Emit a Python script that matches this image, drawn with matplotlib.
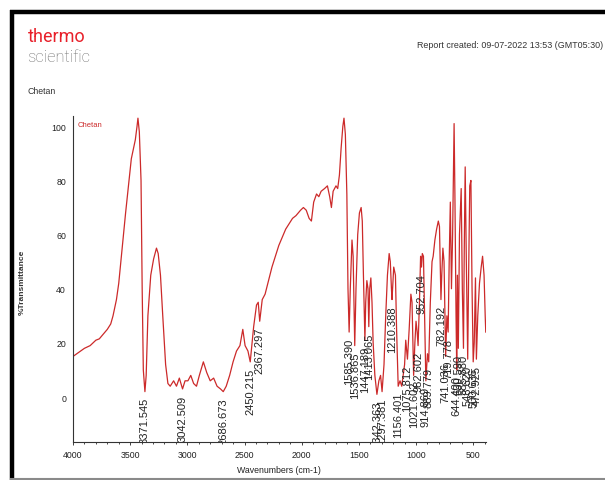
import matplotlib
matplotlib.use("Agg")
import matplotlib.pyplot as plt
from matplotlib.lines import Line2D
from matplotlib.ticker import MultipleLocator

plt.rcParams['font.family'] = ['Liberation Sans', 'DejaVu Sans']

# FTIR spectrum (wavenumber in cm-1, % transmittance)
wavenumber = [
    4000, 3950, 3900, 3850, 3800, 3770, 3740, 3700, 3670, 3650, 3620, 3600,
    3570, 3540, 3510, 3490, 3470, 3455, 3440, 3432, 3420, 3405, 3395, 3385,
    3371, 3360, 3345, 3320, 3295, 3270, 3255, 3235, 3215, 3190, 3170, 3150,
    3120, 3095, 3070, 3042, 3020, 2995, 2970, 2945, 2920, 2895, 2860, 2830,
    2800, 2770, 2740, 2710, 2686, 2660, 2630, 2600, 2570, 2540, 2515, 2495,
    2470, 2450, 2420, 2395, 2380, 2367, 2345, 2320, 2290, 2260, 2230, 2200,
    2170, 2140, 2110, 2080, 2050, 2010, 1985, 1960, 1935, 1915, 1895, 1870,
    1850, 1830, 1800, 1775, 1755, 1740, 1725, 1700, 1685, 1670, 1655, 1640,
    1630, 1618, 1605, 1595, 1585, 1575, 1560, 1550, 1536, 1525, 1510, 1495,
    1480, 1470, 1460, 1447, 1440, 1430, 1420, 1413, 1405, 1395, 1385, 1375,
    1360, 1342, 1325, 1310, 1297, 1280, 1265, 1250, 1235, 1225, 1215, 1210,
    1195, 1180, 1170, 1156, 1140, 1125, 1100, 1090, 1075, 1060, 1045, 1035,
    1021, 1010, 1000, 990, 982, 970, 960, 952, 945, 935, 925, 914,
    900, 889, 875, 860, 850, 835, 820, 805, 795, 782, 775, 765,
    755, 741, 730, 719, 710, 700, 690, 680, 667, 660, 650, 644,
    638, 630, 620, 605, 595, 585, 578, 570, 560, 548, 540, 530,
    520, 510, 500, 491, 480, 472, 460, 445, 430, 418, 405, 395, 390,
]
transmittance = [
    15, 16.5, 18, 19, 21, 21.5, 23, 25, 27, 30, 36, 42,
    55, 68, 80, 88, 92, 95, 100, 103, 98, 80, 40, 10,
    2, 8, 30, 45, 51, 55, 53, 45, 30, 12, 5, 4,
    6, 4, 7, 3, 6, 6, 8, 5, 4, 8, 13, 9,
    6, 7, 4, 3, 2, 4, 8, 13, 17, 19, 25, 19,
    17, 13, 26, 34, 35, 28, 36, 38, 43, 48, 52, 56,
    59, 62, 64, 66, 67, 69, 70, 69, 66, 65, 72, 75,
    74, 76, 77, 78, 74, 70, 76, 78, 77, 82, 92, 100,
    103, 97, 75, 40, 24, 40, 58, 52, 19, 40, 60, 68,
    70, 65, 45, 21, 35, 43, 40, 26, 40, 44, 35, 20,
    8, 1, 6, 8, 2, 12, 30, 45, 53, 50, 40, 36,
    48, 45, 25, 4, 6, 4, 12, 21, 14, 25, 38, 35,
    8, 20, 28, 24, 19, 35, 52, 48, 53, 52, 30, 6,
    16, 13, 35, 50, 52, 58, 62, 65, 63, 36, 45, 55,
    50, 15, 30, 24, 50, 72, 40, 60, 101, 75, 30, 10,
    45, 18, 60, 77, 40, 18, 55, 85, 50, 14, 45, 78,
    80, 40, 13, 20, 44, 14, 30, 42, 48, 52, 45, 30, 24,
]

# Peak-pick labels: text, position (cm-1), transmittance at the minimum
peak_labels = [
    "3371.545", "3042.509", "2686.673", "2450.215", "2367.297",
    "1585.390", "1536.865", "1447.189", "1413.065", "1342.363",
    "1297.381", "1210.388", "1156.401", "1075.812", "1021.602",
    "982.602", "952.704", "914.869", "889.779", "782.192",
    "741.036", "719.778", "644.400", "630.590", "585.880",
    "548.620", "500.635", "472.925",
]
peak_wn = [
    3371, 3042, 2686, 2450, 2367,
    1585, 1536, 1447, 1413, 1342,
    1297, 1210, 1156, 1075, 1021,
    982, 952, 914, 889, 782,
    741, 719, 644, 630, 585,
    548, 500, 472,
]
peak_t = [
    2, 3, 2, 13, 28,
    24, 19, 21, 26, 1,
    2, 36, 4, 14, 8,
    19, 48, 6, 13, 36,
    15, 24, 10, 18, 18,
    14, 13, 14,
]

x_ticks = [4000, 3500, 3000, 2500, 2000, 1500, 1000, 500]
y_ticks = [0, 20, 40, 60, 80, 100]

W, H = 605, 481
fig = plt.figure(figsize=(W / 100, H / 100), dpi=100)
fig.patch.set_facecolor('white')

ax = fig.add_axes([73 / W, 1 - 443 / H, 413 / W, 326 / H])
ax.plot(wavenumber, transmittance, color='#cc2a2a', lw=0.9)
ax.set_xlim(4000, 388)
ax.set_ylim(-16.6, 103.8)

for txt, wn, t in zip(peak_labels, peak_wn, peak_t):
    ax.annotate(txt, xy=(wn, t), xytext=(0, -4), textcoords='offset points',
                rotation=90, ha='center', va='top', fontsize=8,
                color='#222222', clip_on=True, annotation_clip=False)

ax.set_xticks(x_ticks)
ax.set_yticks(y_ticks)
ax.xaxis.set_minor_locator(MultipleLocator(100))
ax.tick_params(axis='both', labelsize=6.3, colors='#222222', length=2.5, width=0.6)
ax.tick_params(axis='x', which='minor', length=1.5, width=0.5)
ax.tick_params(axis='y', length=0, pad=5)
for s in ['top', 'right']:
    ax.spines[s].set_visible(False)
for s in ['left', 'bottom']:
    ax.spines[s].set_linewidth(0.8)
    ax.spines[s].set_color('#333333')

ax.text(0.012, 0.975, 'Chetan', transform=ax.transAxes, fontsize=5.5,
        color='#cc2a2a', ha='left', va='center')

fig.text(279 / W, 1 - 471 / H, 'Wavenumbers (cm-1)', fontsize=6.3,
         ha='center', va='center', color='#222222')
fig.text(22 / W, 1 - 282 / H, '%Transmittance', fontsize=6, fontweight='bold',
         rotation=90, ha='center', va='center', color='#333333')

# Report header
fig.text(28 / W, 1 - 37 / H, 'thermo', fontsize=13, color='#e8202a',
         ha='left', va='center', family=['Roboto', 'DejaVu Sans'])
fig.text(27 / W, 1 - 58 / H, 'scientific', fontsize=12, color='#6e6e6e',
         ha='left', va='center', family=['Roboto', 'DejaVu Sans'], fontweight='light')
fig.text(603 / W, 1 - 46 / H, 'Report created: 09-07-2022 13:53 (GMT05:30)',
         fontsize=6.4, color='#333333', ha='right', va='center')
fig.text(28 / W, 1 - 92 / H, 'Chetan', fontsize=6.3, color='#333333',
         ha='left', va='center')

# Page frame
fig.add_artist(Line2D([12 / W, 12 / W], [0, 1 - 11 / H], transform=fig.transFigure,
                      color='black', lw=3.2, solid_capstyle='butt'))
fig.add_artist(Line2D([10 / W, 1], [1 - 13 / H, 1 - 13 / H], transform=fig.transFigure,
                      color='black', lw=3.2, solid_capstyle='butt'))
fig.add_artist(Line2D([10 / W, 1], [1.5 / H, 1.5 / H], transform=fig.transFigure,
                      color='#8a8a8a', lw=1.5, solid_capstyle='butt'))

fig.savefig('out.png', dpi=100, facecolor='white')
